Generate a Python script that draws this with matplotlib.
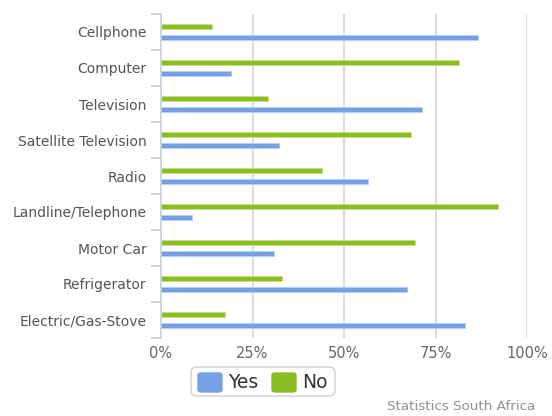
import matplotlib
matplotlib.use("Agg")
import matplotlib.pyplot as plt
import numpy as np
from matplotlib.patches import FancyBboxPatch

categories = ["Cellphone", "Computer", "Television", "Satellite Television", "Radio",
              "Landline/Telephone", "Motor Car", "Refrigerator", "Electric/Gas-Stove"]
yes_vals = [86.6, 19.1, 71.2, 32.3, 56.6, 8.5, 31.0, 67.3, 83.1]
no_vals = [14.0, 81.4, 29.3, 68.2, 43.9, 92.1, 69.4, 33.1, 17.4]
xticks = [0, 25, 50, 75, 100]
xtick_labels = ["0%", "25%", "50%", "75%", "100%"]

blue = "#77A1E5"
green = "#8BBC21"

fig = plt.figure(figsize=(5.52, 4.16), dpi=100)
ax = fig.add_axes([161/552, 1-338/416, (527-161)/552, 324/416])

y = np.arange(len(categories))
h = 0.13
off = 0.15
ax.barh(y - off, no_vals, height=h, color=green, edgecolor="#c8e08a", linewidth=0.6, zorder=3)
ax.barh(y + off, yes_vals, height=h, color=blue, edgecolor="#b8ccf0", linewidth=0.6, zorder=3)

ax.set_xlim(0, 100)
ax.set_ylim(len(categories) - 0.5, -0.5)

ax.set_xticks(xticks)
ax.set_xticklabels(xtick_labels, fontsize=10.5, color="#666666", family="DejaVu Sans")
ax.tick_params(axis="x", length=0, pad=6)
for t in xticks[1:]:
    ax.axvline(t, color="#DCDCDC", lw=1.4, zorder=1)

ax.set_yticks(y)
ax.set_yticklabels(categories, fontsize=10, color="#555555", family="DejaVu Sans")
ax.tick_params(axis="y", length=0, pad=10.5)
ax.set_yticks(np.arange(-0.5, len(categories) + 0.5, 1), minor=True)
ax.tick_params(axis="y", which="minor", length=7, color="#C0D0E0", width=1.2)

for s in ["top", "right", "bottom"]:
    ax.spines[s].set_visible(False)
ax.spines["left"].set_color("#C0D0E0")
ax.spines["left"].set_linewidth(1.2)

# legend
box = FancyBboxPatch((191/552, 1-396/416), (335-191)/552, 29/416,
                     boxstyle="round,pad=0,rounding_size=0.012",
                     transform=fig.transFigure, facecolor="white",
                     edgecolor="#D0D0D0", lw=1.0)
fig.add_artist(box)
for (x0, col, lab) in [(198, blue, "Yes"), (272, green, "No")]:
    sq = FancyBboxPatch((x0/552, 1-392/416), 24/552, 19/416,
                        boxstyle="round,pad=0,rounding_size=0.006",
                        transform=fig.transFigure, facecolor=col, edgecolor=col)
    fig.add_artist(sq)
    fig.text((x0 + 30)/552, 1-383/416, lab, fontsize=13.5, color="#333333",
             va="center", ha="left", family="DejaVu Sans")

fig.text(535/552, 1-406/416, "Statistics South Africa", fontsize=9.7,
         color="#909090", ha="right", va="center", family="DejaVu Sans")

fig.savefig("out.png", dpi=100)
